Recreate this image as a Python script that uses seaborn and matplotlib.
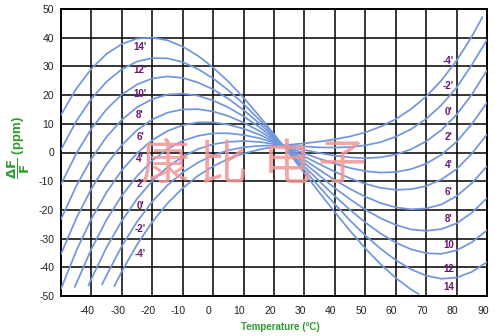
import matplotlib
matplotlib.use("Agg")
import matplotlib.pyplot as plt
import matplotlib.transforms as mtransforms
import pandas as pd
import seaborn as sns

# ---------------- data ----------------
temps_full = [-50, -45, -40, -35, -30, -25, -20, -15, -10, -5, 0, 5, 10, 15, 20,
              25, 30, 35, 40, 45, 50, 55, 60, 65, 70, 75, 80, 85, 90]

t_14 = [-50, -45, -40, -35, -30, -25, -20, -15, -10, -5, 0, 5, 10, 15, 20,
        25, 30, 35, 40, 45, 50, 55, 60, 65, 67.5]
v_14 = [13.1, 22.2, 29.2, 34.4, 37.8, 39.7, 40.0, 39.1, 36.9, 33.7, 29.6, 24.7, 19.1, 12.9, 6.4,
        -0.3, -7.2, -14.1, -20.8, -27.3, -33.4, -38.9, -43.7, -47.7, -49.3]

v_12 = [1.0, 10.9, 18.7, 24.7, 29.0, 31.7, 32.9, 32.8, 31.5, 29.1, 25.8, 21.7, 16.9, 11.6, 5.9,
        0.0, -6.1, -12.1, -18.0, -23.7, -28.9, -33.5, -37.5, -40.7, -42.9, -44.0, -43.6, -41.6, -38.2]
v_10 = [-11.1, -0.4, 8.3, 15.1, 20.2, 23.7, 25.8, 26.5, 26.0, 24.4, 22.0, 18.7, 14.8, 10.3, 5.4,
        0.3, -4.9, -10.1, -15.2, -20.0, -24.4, -28.2, -31.4, -33.7, -35.1, -35.3, -34.1, -31.3, -27.1]
v_8 = [-23.2, -11.7, -2.2, 5.5, 11.4, 15.8, 18.6, 20.2, 20.5, 19.8, 18.1, 15.7, 12.6, 9.0, 4.9,
       0.7, -3.7, -8.1, -12.4, -16.3, -19.9, -22.9, -25.2, -26.8, -27.3, -26.7, -24.7, -21.0, -15.9]
v_6 = [-35.4, -23.0, -12.6, -4.1, 2.6, 7.8, 11.5, 13.9, 15.0, 15.1, 14.3, 12.7, 10.4, 7.6, 4.4,
       1.0, -2.6, -6.1, -9.6, -12.7, -15.4, -17.6, -19.1, -19.8, -19.5, -18.1, -15.2, -10.7, -4.8]
v_4 = [-47.5, -34.3, -23.1, -13.8, -6.2, -0.2, 4.3, 7.5, 9.5, 10.5, 10.5, 9.7, 8.3, 6.3, 3.9,
       1.3, -1.4, -4.1, -6.7, -9.0, -10.9, -12.3, -13.0, -12.8, -11.7, -9.4, -5.8, -0.4, 6.3]

t_2 = [-45.5, -40, -35, -30, -25, -20, -15, -10, -5, 0, 5, 10, 15, 20,
       25, 30, 35, 40, 45, 50, 55, 60, 65, 70, 75, 80, 85, 90]
v_2 = [-46.9, -33.6, -23.4, -15.0, -8.2, -2.8, 1.2, 4.1, 5.8, 6.7, 6.7, 6.1, 5.0, 3.5,
       1.7, -0.3, -2.2, -3.9, -5.4, -6.5, -7.0, -6.8, -5.8, -3.9, -0.8, 3.7, 9.9, 17.4]

t_0 = [-41, -40, -35, -30, -25, -20, -15, -10, -5, 0, 5, 10, 15, 20,
       25, 30, 35, 40, 45, 50, 55, 60, 65, 70, 75, 80, 85, 90]
v_0 = [-46.4, -44.0, -33.0, -23.8, -16.1, -9.9, -5.1, -1.4, 1.2, 2.9, 3.7, 4.0, 3.7, 3.0,
       2.0, 0.9, -0.2, -1.1, -1.7, -2.0, -1.7, -0.7, 1.1, 3.9, 7.8, 13.2, 20.2, 28.6]

t_m2 = [-36.5, -35, -30, -25, -20, -15, -10, -5, 0, 5, 10, 15, 20,
        25, 30, 35, 40, 45, 50, 55, 60, 65, 70, 75, 80, 85, 90]
v_m2 = [-46.0, -42.7, -32.6, -24.1, -17.1, -11.4, -6.9, -3.5, -1.0, 0.8, 1.8, 2.3, 2.5,
        2.3, 2.1, 1.8, 1.7, 1.9, 2.5, 3.6, 5.5, 8.1, 11.7, 16.5, 22.6, 30.5, 39.3]

t_m4 = [-32.5, -30, -25, -20, -15, -10, -5, 0, 5, 10, 15, 20,
        25, 30, 35, 40, 45, 50, 55, 60, 65, 70, 75, 80, 85, 88.5]
v_m4 = [-46.6, -41.4, -32.1, -24.2, -17.7, -12.4, -8.1, -4.8, -2.2, -0.4, 1.0, 2.0,
        2.7, 3.2, 3.8, 4.6, 5.6, 7.0, 9.0, 11.6, 15.1, 19.5, 25.1, 32.0, 40.4, 47.2]

curves = [("14", t_14, v_14), ("12", temps_full, v_12), ("10", temps_full, v_10),
          ("8", temps_full, v_8), ("6", temps_full, v_6), ("4", temps_full, v_4),
          ("2", t_2, v_2), ("0", t_0, v_0), ("-2", t_m2, v_m2), ("-4", t_m4, v_m4)]

left_labels = ["14'", "12'", "10'", "8'", "6'", "4'", "2'", "0'", "-2'", "-4'"]
left_label_y = [36.7, 28.6, 20.4, 13.1, 5.3, -2.2, -10.9, -18.8, -26.6, -35.3]
right_labels = ["-4'", "-2'", "0'", "2'", "4'", "6'", "8'", "10", "12", "14"]
right_label_y = [32.0, 23.3, 14.0, 5.3, -4.5, -13.8, -23.0, -32.4, -40.5, -47.0]

watermark_chars = ["康", "比", "电", "子"]
watermark_x = [-16.0, 3.2, 24.2, 42.2]

x_ticks = [-40, -30, -20, -10, 0, 10, 20, 30, 40, 50, 60, 70, 80, 90]
y_ticks = [-50, -40, -30, -20, -10, 0, 10, 20, 30, 40, 50]

# ---------------- build long table ----------------
rows = []
for name, ts, vs in curves:
    for t, v in zip(ts, vs):
        rows.append({"curve": name, "T": t, "ppm": v})
df = pd.DataFrame(rows)

# ---------------- styling ----------------
sns.set_theme(style="white")
plt.rcParams['font.family'] = ['Liberation Sans', 'DejaVu Sans']

LINE = "#7096dc"
PURPLE = "#6a1470"
GREEN = "#2f9a2f"

fig = plt.figure(figsize=(4.95, 3.36), dpi=100)
fig.patch.set_facecolor("white")
ax = fig.add_axes([61 / 495, 1 - 296 / 336, (487 - 61) / 495, (296 - 9) / 336])
ax.set_facecolor("white")

sns.lineplot(data=df, x="T", y="ppm", hue="curve", units="curve", estimator=None,
             palette={n: LINE for n, _, _ in curves}, legend=False, sort=False,
             linewidth=1.25, ax=ax, zorder=3)

ax.set_xlim(-50, 90)
ax.set_ylim(-50, 50)
ax.set_xticks(x_ticks)
ax.set_yticks(y_ticks)
ax.set_xticklabels([str(v) for v in x_ticks])
ax.set_yticklabels([str(v) for v in y_ticks])
ax.set_xlabel("")
ax.set_ylabel("")
ax.grid(True, color="black", linewidth=1.1)
ax.set_axisbelow(True)
ax.tick_params(axis="both", length=0, labelsize=7.5, colors="#222222")
ax.tick_params(axis="y", pad=5)
ax.tick_params(axis="x", pad=7)
for spine in ax.spines.values():
    spine.set_color("black")
    spine.set_linewidth(1.4)
    spine.set_visible(True)

shift = mtransforms.ScaledTranslation(-3 / 72, 0, fig.dpi_scale_trans)
for lab in ax.get_xticklabels():
    lab.set_transform(lab.get_transform() + shift)

# curve labels
for txt, yv in zip(left_labels, left_label_y):
    ax.text(-24, yv, txt, color=PURPLE, fontsize=7, fontweight="bold",
            ha="center", va="center", zorder=4)
for txt, yv in zip(right_labels, right_label_y):
    ax.text(77.3, yv, txt, color=PURPLE, fontsize=7, fontweight="bold",
            ha="center", va="center", zorder=4)

# watermark
for ch, xv in zip(watermark_chars, watermark_x):
    ax.text(xv, -4.5, ch, fontsize=35, color="#f29696", alpha=0.85,
            fontweight="normal", family=["Noto Sans CJK SC", "DejaVu Sans"],
            ha="center", va="center", zorder=5)

# axis titles
fig.text(280 / 495, 1 - 327 / 336, "Temperature (°C)", color=GREEN, fontsize=7,
         fontweight="bold", ha="center", va="center")
fig.text(19 / 495, 1 - 148 / 336, r"$\mathbf{\dfrac{\Delta F}{F}}$ (ppm)", color=GREEN,
         fontsize=9.5, fontweight="bold", rotation=90, ha="center", va="center")

fig.savefig("out.png", dpi=100, facecolor="white")
